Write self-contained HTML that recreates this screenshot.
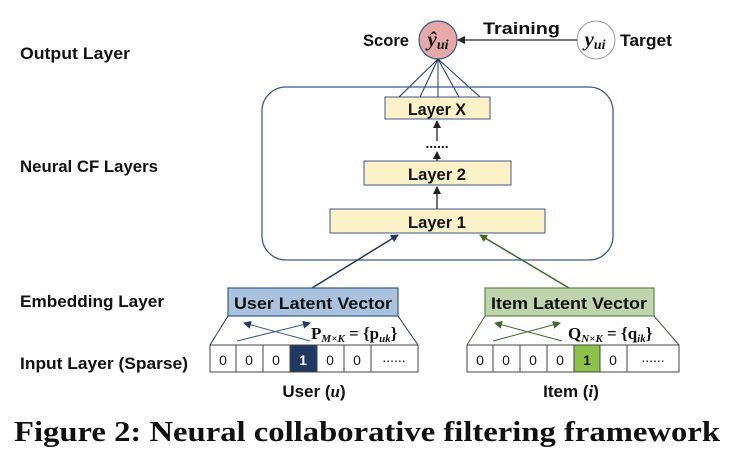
<!DOCTYPE html>
<html><head><meta charset="utf-8"><style>
html,body{margin:0;padding:0;background:#fff;}
svg{display:block;}
.l{font-family:"Liberation Sans",sans-serif;font-weight:bold;font-size:17px;fill:#111;}
.c{font-family:"Liberation Sans",sans-serif;font-size:14px;fill:#111;}
.m{font-family:"Liberation Serif",serif;font-weight:bold;fill:#111;}
</style></head><body>
<svg width="734" height="458" viewBox="0 0 734 458" xmlns="http://www.w3.org/2000/svg">
<defs>
<marker id="ak" markerWidth="8" markerHeight="8" refX="7" refY="4" orient="auto" markerUnits="userSpaceOnUse"><path d="M0,0 L8,4 L0,8 z" fill="#222"/></marker>
<marker id="ab" markerWidth="8" markerHeight="8" refX="7" refY="4" orient="auto" markerUnits="userSpaceOnUse"><path d="M0,0 L8,4 L0,8 z" fill="#1f3864"/></marker>
<marker id="ag" markerWidth="8" markerHeight="8" refX="7" refY="4" orient="auto" markerUnits="userSpaceOnUse"><path d="M0,0 L8,4 L0,8 z" fill="#3d6b2a"/></marker>
</defs>
<text class="l" x="20" y="59" textLength="110" lengthAdjust="spacingAndGlyphs">Output Layer</text>
<text class="l" x="20" y="172" textLength="138" lengthAdjust="spacingAndGlyphs">Neural CF Layers</text>
<text class="l" x="20" y="307" textLength="144" lengthAdjust="spacingAndGlyphs">Embedding Layer</text>
<text class="l" x="20" y="369" textLength="168" lengthAdjust="spacingAndGlyphs">Input Layer (Sparse)</text>

<text class="l" x="363" y="46" textLength="46" lengthAdjust="spacingAndGlyphs" font-size="18">Score</text>
<circle cx="438" cy="40" r="19" fill="#e6a9aa" stroke="#3a5a8c" stroke-width="1.2"/>
<text class="m" x="438" y="46" text-anchor="middle" font-size="21" font-style="italic">ŷ<tspan font-size="14" dy="3">ui</tspan></text>
<circle cx="596" cy="40" r="19" fill="#fff" stroke="#999" stroke-width="1"/>
<text class="m" x="595" y="46" text-anchor="middle" font-size="21" font-style="italic">y<tspan font-size="14" dy="3">ui</tspan></text>
<text class="l" x="620" y="46" textLength="52" lengthAdjust="spacingAndGlyphs" font-size="18">Target</text>
<text class="l" x="483" y="34" textLength="77" lengthAdjust="spacingAndGlyphs" font-size="20">Training</text>
<line x1="577" y1="40" x2="458" y2="40" stroke="#222" stroke-width="1.3" marker-end="url(#ak)"/>

<g stroke="#1f3864" stroke-width="1">
<line x1="438" y1="59" x2="399" y2="97"/><line x1="438" y1="59" x2="420" y2="97"/><line x1="438" y1="59" x2="438" y2="97"/><line x1="438" y1="59" x2="459" y2="97"/><line x1="438" y1="59" x2="480" y2="97"/>
</g>
<rect x="262" y="87" width="351" height="173" rx="24" fill="none" stroke="#3a5a8c" stroke-width="1.3"/>
<rect x="385" y="97" width="105" height="22" fill="#fdf1c8" stroke="#3a5a8c"/>
<text class="l" x="437" y="115" text-anchor="middle" font-size="18" textLength="58" lengthAdjust="spacingAndGlyphs">Layer X</text>
<line x1="437" y1="141" x2="437" y2="121" stroke="#222" stroke-width="1.3" marker-end="url(#ak)"/>
<text class="c" x="437" y="148" text-anchor="middle" font-weight="bold">......</text>
<line x1="437" y1="161" x2="437" y2="152" stroke="#222" stroke-width="1.3" marker-end="url(#ak)"/>
<rect x="364" y="161" width="147" height="24" fill="#fdf1c8" stroke="#3a5a8c"/>
<text class="l" x="437" y="180" text-anchor="middle" font-size="18" textLength="58" lengthAdjust="spacingAndGlyphs">Layer 2</text>
<line x1="437" y1="209" x2="437" y2="187" stroke="#222" stroke-width="1.3" marker-end="url(#ak)"/>
<rect x="330" y="209" width="215" height="24" fill="#fdf1c8" stroke="#3a5a8c"/>
<text class="l" x="437" y="228" text-anchor="middle" font-size="18" textLength="58" lengthAdjust="spacingAndGlyphs">Layer 1</text>

<line x1="312" y1="288" x2="398" y2="235" stroke="#1f3864" stroke-width="1.5" marker-end="url(#ab)"/>
<line x1="569" y1="288" x2="480" y2="235" stroke="#3d6b2a" stroke-width="1.5" marker-end="url(#ag)"/>

<rect x="228" y="288" width="170" height="28" fill="#a9c3df" stroke="#3a5a8c" stroke-width="1.2"/>
<text class="l" x="313" y="309" text-anchor="middle" font-size="19" textLength="158" lengthAdjust="spacingAndGlyphs">User Latent Vector</text>
<line x1="228" y1="316" x2="210" y2="345" stroke="#1f3864"/><line x1="398" y1="316" x2="418" y2="345" stroke="#1f3864"/>
<line x1="237" y1="341" x2="310" y2="323" stroke="#3a5a8c" marker-end="url(#ab)"/>
<line x1="310" y1="341" x2="244" y2="323" stroke="#3a5a8c" marker-end="url(#ab)"/>
<text class="m" x="311" y="339" font-size="17">P<tspan font-size="11" font-style="italic" dy="3">M×K</tspan><tspan dy="-3"> = {</tspan>p<tspan font-size="11" font-style="italic" dy="3">uk</tspan><tspan dy="-3">}</tspan></text>
<g stroke="#444" fill="#fff">
<rect x="210" y="345" width="26" height="27"/><rect x="236" y="345" width="27" height="27"/><rect x="263" y="345" width="27" height="27"/>
<rect x="290" y="345" width="27" height="27" fill="#1f3864"/><rect x="317" y="345" width="27" height="27"/><rect x="344" y="345" width="27" height="27"/><rect x="371" y="345" width="47" height="27"/>
</g>
<g class="c" text-anchor="middle" font-size="16">
<text x="223" y="365">0</text><text x="249" y="365">0</text><text x="276" y="365">0</text><text x="303" y="365" fill="#fff" font-weight="bold">1</text><text x="330" y="365">0</text><text x="357" y="365">0</text><text x="394" y="362" font-size="14">......</text>
</g>
<text class="l" x="314" y="397" text-anchor="middle" font-size="18">User (<tspan font-family="Liberation Serif" font-style="italic">u</tspan>)</text>

<rect x="485" y="288" width="169" height="28" fill="#bfd3ad" stroke="#5e8a45" stroke-width="1.2"/>
<text class="l" x="569" y="309" text-anchor="middle" font-size="19" textLength="156" lengthAdjust="spacingAndGlyphs">Item Latent Vector</text>
<line x1="485" y1="316" x2="467" y2="345" stroke="#3d6b2a"/><line x1="654" y1="316" x2="679" y2="345" stroke="#3d6b2a"/>
<line x1="493" y1="341" x2="560" y2="323" stroke="#3d6b2a" marker-end="url(#ag)"/>
<line x1="562" y1="341" x2="495" y2="323" stroke="#3d6b2a" marker-end="url(#ag)"/>
<text class="m" x="568" y="339" font-size="17">Q<tspan font-size="11" font-style="italic" dy="3">N×K</tspan><tspan dy="-3"> = {</tspan>q<tspan font-size="11" font-style="italic" dy="3">ik</tspan><tspan dy="-3">}</tspan></text>
<g stroke="#444" fill="#fff">
<rect x="467" y="345" width="26" height="27"/><rect x="493" y="345" width="27" height="27"/><rect x="520" y="345" width="27" height="27"/><rect x="547" y="345" width="27" height="27"/>
<rect x="574" y="345" width="26" height="27" fill="#8bc34a"/><rect x="600" y="345" width="27" height="27"/><rect x="627" y="345" width="52" height="27"/>
</g>
<g class="c" text-anchor="middle" font-size="16">
<text x="480" y="365">0</text><text x="506" y="365">0</text><text x="533" y="365">0</text><text x="560" y="365">0</text><text x="587" y="365" font-weight="bold">1</text><text x="613" y="365">0</text><text x="653" y="362" font-size="14">......</text>
</g>
<text class="l" x="571" y="397" text-anchor="middle" font-size="18">Item (<tspan font-family="Liberation Serif" font-style="italic">i</tspan>)</text>

<text class="m" x="14" y="441" font-size="28" textLength="706" lengthAdjust="spacingAndGlyphs">Figure 2: Neural collaborative filtering framework</text>
</svg>
</body></html>
